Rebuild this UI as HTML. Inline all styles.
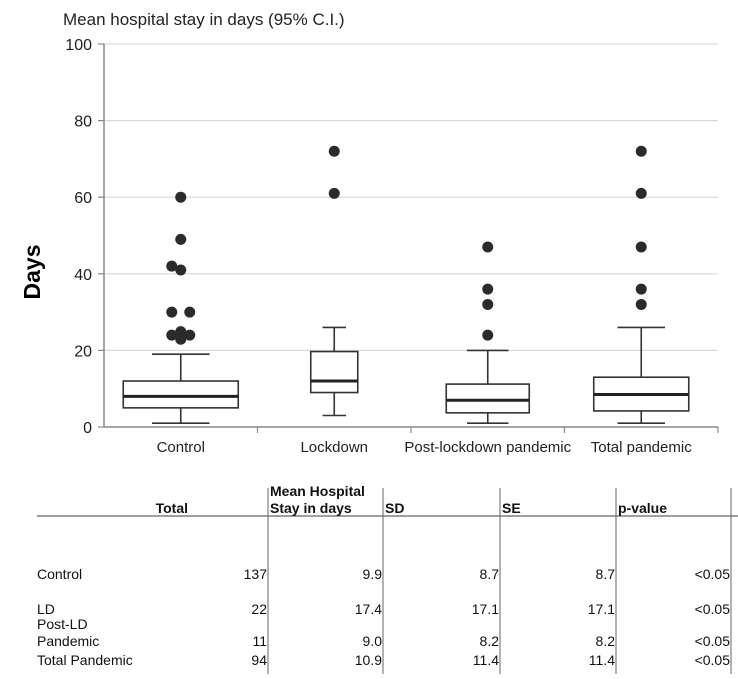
<!DOCTYPE html>
<html><head><meta charset="utf-8"><style>
body{margin:0;background:#fff;font-family:"Liberation Sans",Arial,sans-serif;}
svg text{font-family:"Liberation Sans",Arial,sans-serif;}
</style></head><body>
<svg id="c" width="738" height="674" xmlns="http://www.w3.org/2000/svg">
<text x="63" y="25" font-size="17" fill="#222">Mean hospital stay in days (95% C.I.)</text>
<text transform="translate(40,272) rotate(-90)" text-anchor="middle" font-size="23" font-weight="bold" fill="#000">Days</text>
<g id="grid"></g><g id="boxes"></g><g id="table"></g>
</svg>
<script>
const categories=["Control","Lockdown","Post-lockdown pandemic","Total pandemic"];
const q1=[5,9,3.7,4.2];
const median=[8,12,7,8.5];
const q3=[12,19.7,11.2,13];
const whiskLo=[1,3,1,1];
const whiskHi=[19,26,20,26];
const boxWidth=[115,47,83,95];
const outliers=[[60,49,42,41,30,30,24,24.9,24,22.9],[72,61],[47,36,32,24],[72,61,47,36,32]];
const outlierJitter=[[0,0,-1,0,-1,1,-1,0,1,0],[0,0],[0,0,0,0],[0,0,0,0,0]];
const yTicks=[0,20,40,60,80,100];
const tableHeaders=["Total","Mean Hospital|Stay in days","SD","SE","p-value"];
const rowLabels=["Control","LD","Post-LD|Pandemic","Total Pandemic"];
const totals=["137","22","11","94"];
const means=["9.9","17.4","9.0","10.9"];
const sds=["8.7","17.1","8.2","11.4"];
const ses=["8.7","17.1","8.2","11.4"];
const pvals=["<0.05","<0.05","<0.05","<0.05"];

const NS="http://www.w3.org/2000/svg";
const X0=104,X1=718,Y0=427,Y1=44;
const y=v=>Y0-(v-0)/(100-0)*(Y0-Y1);
const band=(X1-X0)/categories.length;
const xc=i=>X0+band*(i+0.5);
function mk(tag,attrs,parent,text){const e=document.createElementNS(NS,tag);for(const k in attrs)e.setAttribute(k,attrs[k]);if(text!==undefined)e.textContent=text;parent.appendChild(e);return e;}
const grid=document.getElementById('grid'),boxes=document.getElementById('boxes'),tbl=document.getElementById('table');
yTicks.forEach(t=>{
  if(t>0){const g=mk('line',{x1:X0,x2:X1,y1:y(t),y2:y(t),stroke:'#d9d9d9','stroke-width':1.2},grid);
  
  }
  const tk=mk('line',{x1:X0-6,x2:X0,y1:y(t),y2:y(t),stroke:'#888','stroke-width':1.2},grid);
  
  
  const tl=mk('text',{x:X0-12,y:y(t)+6,'text-anchor':'end','font-size':16,fill:'#222'},grid,String(t));
  
  
});
const ya=mk('line',{x1:X0,x2:X0,y1:Y1,y2:Y0,stroke:'#888','stroke-width':1.5},grid);


const xa=mk('line',{x1:X0,x2:X1,y1:Y0,y2:Y0,stroke:'#888','stroke-width':1.5},grid);


for(let i=1;i<=categories.length;i++){const t=mk('line',{x1:X0+band*i,x2:X0+band*i,y1:Y0,y2:Y0+6,stroke:'#888','stroke-width':1.2},grid);
  
  }
categories.forEach((c,i)=>{
  const cx=xc(i),w=boxWidth[i];
  const g=mk('g',{},boxes);
  
  
  const st={stroke:'#333','stroke-width':1.6,fill:'none'};
  mk('line',Object.assign({x1:cx,x2:cx,y1:y(whiskHi[i]),y2:y(q3[i])},st),g);
  mk('line',Object.assign({x1:cx,x2:cx,y1:y(q1[i]),y2:y(whiskLo[i])},st),g);
  mk('line',Object.assign({x1:cx-w*0.25,x2:cx+w*0.25,y1:y(whiskHi[i]),y2:y(whiskHi[i])},st),g);
  mk('line',Object.assign({x1:cx-w*0.25,x2:cx+w*0.25,y1:y(whiskLo[i]),y2:y(whiskLo[i])},st),g);
  mk('rect',Object.assign({x:cx-w/2,y:y(q3[i]),width:w,height:y(q1[i])-y(q3[i])},st,{fill:'#fff'}),g);
  mk('line',{x1:cx-w/2,x2:cx+w/2,y1:y(median[i]),y2:y(median[i]),stroke:'#222','stroke-width':3},g);
  outliers[i].forEach((v,j)=>{const d=mk('circle',{cx:cx+outlierJitter[i][j]*9,cy:y(v),r:5.5,fill:'#2b2b2b'},g);
    
    });
  const l=mk('text',{x:cx,y:452,'text-anchor':'middle','font-size':15,fill:'#222'},g,c);
  
  
});
const colR=[268,383,500,616,731];
const hl=mk('line',{x1:37,x2:738,y1:516,y2:516,stroke:'#666','stroke-width':1.2},tbl);


colR.forEach(xv=>{const v=mk('line',{x1:xv,x2:xv,y1:488,y2:674,stroke:'#666','stroke-width':1},tbl);
  
  });
const hx=[188,270,385,502,618];
tableHeaders.forEach((h,i)=>{const parts=h.split('|');
  parts.forEach((p,k)=>{const t=mk('text',{x:hx[i],y:513-(parts.length-1-k)*17,'text-anchor':i===0?'end':'start','font-size':14,'font-weight':'bold',fill:'#111'},tbl,p);
  
  });
});
const rowY=[579,614,646,665];
rowLabels.forEach((r,i)=>{
  const parts=r.split('|');
  parts.forEach((p,k)=>{const t=mk('text',{x:37,y:rowY[i]-(parts.length-1-k)*17,'font-size':14,fill:'#111'},tbl,p);
    
    });
  [totals[i],means[i],sds[i],ses[i],pvals[i]].forEach((v,j)=>{const t=mk('text',{x:colR[j]-1,y:rowY[i],'text-anchor':'end','font-size':14,fill:'#111'},tbl,v);
    
    });
});
</script>
</body></html>
